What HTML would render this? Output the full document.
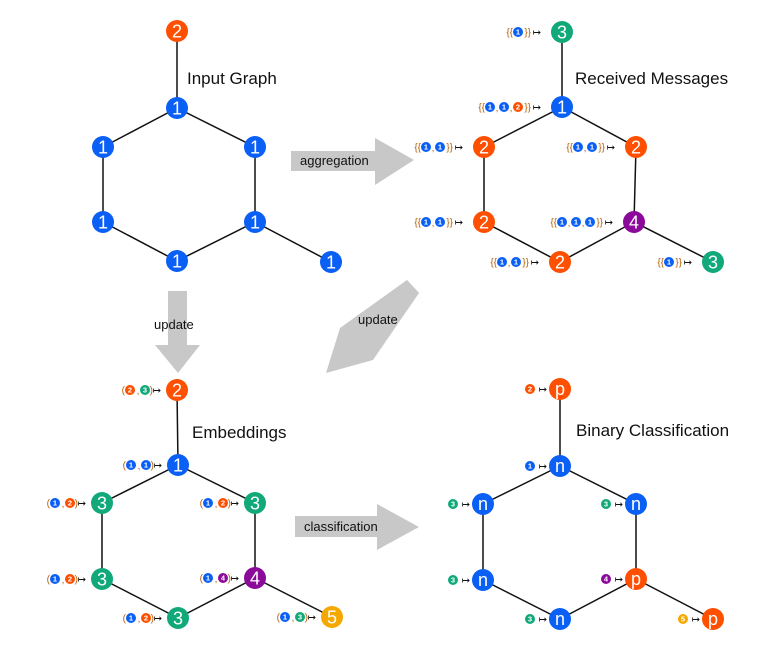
<!DOCTYPE html>
<html><head><meta charset="utf-8"><style>
html,body{margin:0;padding:0;background:#fff;}
svg{display:block;font-family:"Liberation Sans",sans-serif;}
.e{stroke:#111;stroke-width:1.5;}
.nt{fill:#fff;font-size:18px;text-anchor:middle;}
.bt{fill:#fff;font-size:7.5px;font-weight:bold;text-anchor:middle;}
.br{fill:#b8620a;font-size:10px;text-anchor:end;}
.cm{fill:#b8620a;font-size:10px;text-anchor:middle;}
.ar{fill:#111;font-size:10px;text-anchor:end;}
.ti{fill:#111;font-size:17px;}
.al{fill:#111;font-size:13px;}
</style></head><body>
<svg width="776" height="660" viewBox="0 0 776 660">
<defs>
<g id="bb"><circle r="5" fill="#0a5ff5"/><text class="bt" y="2.7">1</text></g>
<g id="bo"><circle r="5" fill="#ff4f00"/><text class="bt" y="2.7">2</text></g>
<g id="bg"><circle r="5" fill="#12a97a"/><text class="bt" y="2.7">3</text></g>
<g id="bp"><circle r="5" fill="#8b0a9a"/><text class="bt" y="2.7">4</text></g>
<g id="by"><circle r="5" fill="#f5a800"/><text class="bt" y="2.7">5</text></g>
</defs>

<!-- arrows -->
<g fill="#c8c8c8">
<polygon points="291,151 375,151 375,138 414,160 375,185 375,171 291,171"/>
<polygon points="168,291 187,291 187,345 200,345 178,373 155,345 168,345"/>
<polygon points="295,516 377,516 377,504 419,527 377,550 377,537 295,537"/>
<polygon points="407,280 419,293 373,360 326,373 340,328"/>
</g>
<polygon points="407,280 419,293 362,350 350,338" fill="#c8c8c8"/>
<text class="al" x="300" y="165">aggregation</text>
<text class="al" x="154" y="329">update</text>
<text class="al" x="358" y="324">update</text>
<text class="al" x="304" y="531">classification</text>

<!-- Graph 1 -->
<g class="e">
<line x1="177" y1="31" x2="177" y2="108"/><line x1="177" y1="108" x2="103" y2="147"/><line x1="177" y1="108" x2="255" y2="147"/>
<line x1="103" y1="147" x2="103" y2="222"/><line x1="255" y1="147" x2="255" y2="222"/>
<line x1="103" y1="222" x2="177" y2="261"/><line x1="255" y1="222" x2="177" y2="261"/><line x1="255" y1="222" x2="331" y2="262"/>
</g>
<circle cx="177" cy="31" r="11" fill="#ff4f00"/><text class="nt" x="177" y="37.5">2</text>
<circle cx="177" cy="108" r="11" fill="#0a5ff5"/><text class="nt" x="177" y="114.5">1</text>
<circle cx="103" cy="147" r="11" fill="#0a5ff5"/><text class="nt" x="103" y="153.5">1</text>
<circle cx="255" cy="147" r="11" fill="#0a5ff5"/><text class="nt" x="255" y="153.5">1</text>
<circle cx="103" cy="222" r="11" fill="#0a5ff5"/><text class="nt" x="103" y="228.5">1</text>
<circle cx="255" cy="222" r="11" fill="#0a5ff5"/><text class="nt" x="255" y="228.5">1</text>
<circle cx="177" cy="261" r="11" fill="#0a5ff5"/><text class="nt" x="177" y="267.5">1</text>
<circle cx="331" cy="262" r="11" fill="#0a5ff5"/><text class="nt" x="331" y="268.5">1</text>
<text class="ti" x="187" y="84">Input Graph</text>

<!-- Graph 2 -->
<g class="e">
<line x1="562" y1="32" x2="562" y2="107"/><line x1="562" y1="107" x2="484" y2="147"/><line x1="562" y1="107" x2="636" y2="147"/>
<line x1="484" y1="147" x2="484" y2="222"/><line x1="636" y1="147" x2="634" y2="222"/>
<line x1="484" y1="222" x2="560" y2="262"/><line x1="634" y1="222" x2="560" y2="262"/><line x1="634" y1="222" x2="713" y2="262"/>
</g>
<circle cx="562" cy="32" r="11" fill="#12a97a"/><text class="nt" x="562" y="38.5">3</text>
<circle cx="562" cy="107" r="11" fill="#0a5ff5"/><text class="nt" x="562" y="113.5">1</text>
<circle cx="484" cy="147" r="11" fill="#ff4f00"/><text class="nt" x="484" y="153.5">2</text>
<circle cx="636" cy="147" r="11" fill="#ff4f00"/><text class="nt" x="636" y="153.5">2</text>
<circle cx="484" cy="222" r="11" fill="#ff4f00"/><text class="nt" x="484" y="228.5">2</text>
<circle cx="634" cy="222" r="11" fill="#8b0a9a"/><text class="nt" x="634" y="228.5">4</text>
<circle cx="560" cy="262" r="11" fill="#ff4f00"/><text class="nt" x="560" y="268.5">2</text>
<circle cx="713" cy="262" r="11" fill="#12a97a"/><text class="nt" x="713" y="268.5">3</text>
<text class="ti" x="575" y="84">Received Messages</text>
<!-- labels G2 -->
<text class="br" x="513" y="35.5">{{</text><use href="#bb" x="518" y="32"/><text class="br" x="531" y="35.5">}}</text><text class="ar" x="541" y="35.5">↦</text>
<text class="br" x="485" y="110.5">{{</text><use href="#bb" x="490" y="107"/><text class="cm" x="497" y="111">,</text><use href="#bb" x="504" y="107"/><text class="cm" x="511" y="111">,</text><use href="#bo" x="518" y="107"/><text class="br" x="531" y="110.5">}}</text><text class="ar" x="541" y="110.5">↦</text>
<text class="br" x="421" y="150.5">{{</text><use href="#bb" x="426" y="147"/><text class="cm" x="433" y="151">,</text><use href="#bb" x="440" y="147"/><text class="br" x="453" y="150.5">}}</text><text class="ar" x="463" y="150.5">↦</text>
<text class="br" x="573" y="150.5">{{</text><use href="#bb" x="578" y="147"/><text class="cm" x="585" y="151">,</text><use href="#bb" x="592" y="147"/><text class="br" x="605" y="150.5">}}</text><text class="ar" x="615" y="150.5">↦</text>
<text class="br" x="421" y="225.5">{{</text><use href="#bb" x="426" y="222"/><text class="cm" x="433" y="226">,</text><use href="#bb" x="440" y="222"/><text class="br" x="453" y="225.5">}}</text><text class="ar" x="463" y="225.5">↦</text>
<text class="br" x="557" y="225.5">{{</text><use href="#bb" x="562" y="222"/><text class="cm" x="569" y="226">,</text><use href="#bb" x="576" y="222"/><text class="cm" x="583" y="226">,</text><use href="#bb" x="590" y="222"/><text class="br" x="603" y="225.5">}}</text><text class="ar" x="613" y="225.5">↦</text>
<text class="br" x="497" y="265.5">{{</text><use href="#bb" x="502" y="262"/><text class="cm" x="509" y="266">,</text><use href="#bb" x="516" y="262"/><text class="br" x="529" y="265.5">}}</text><text class="ar" x="539" y="265.5">↦</text>
<text class="br" x="664" y="265.5">{{</text><use href="#bb" x="669" y="262"/><text class="br" x="682" y="265.5">}}</text><text class="ar" x="692" y="265.5">↦</text>

<!-- Graph 3 -->
<g class="e">
<line x1="177" y1="390" x2="178" y2="465"/><line x1="178" y1="465" x2="102" y2="503"/><line x1="178" y1="465" x2="255" y2="503"/>
<line x1="102" y1="503" x2="102" y2="579"/><line x1="255" y1="503" x2="255" y2="578"/>
<line x1="102" y1="579" x2="178" y2="618"/><line x1="255" y1="578" x2="178" y2="618"/><line x1="255" y1="578" x2="332" y2="617"/>
</g>
<circle cx="177" cy="390" r="11" fill="#ff4f00"/><text class="nt" x="177" y="396.5">2</text>
<circle cx="178" cy="465" r="11" fill="#0a5ff5"/><text class="nt" x="178" y="471.5">1</text>
<circle cx="102" cy="503" r="11" fill="#12a97a"/><text class="nt" x="102" y="509.5">3</text>
<circle cx="255" cy="503" r="11" fill="#12a97a"/><text class="nt" x="255" y="509.5">3</text>
<circle cx="102" cy="579" r="11" fill="#12a97a"/><text class="nt" x="102" y="585.5">3</text>
<circle cx="255" cy="578" r="11" fill="#8b0a9a"/><text class="nt" x="255" y="584.5">4</text>
<circle cx="178" cy="618" r="11" fill="#12a97a"/><text class="nt" x="178" y="624.5">3</text>
<circle cx="332" cy="617" r="11" fill="#f5a800"/><text class="nt" x="332" y="623.5">5</text>
<text class="ti" x="192" y="438">Embeddings</text>
<!-- labels G3 -->
<text class="br" x="125" y="393.5">(</text><use href="#bo" x="130" y="390"/><text class="cm" x="138" y="394">,</text><use href="#bg" x="145" y="390"/><text class="br" x="153" y="393.5">)</text><text class="ar" x="161" y="393.5">↦</text>
<text class="br" x="126" y="468.5">(</text><use href="#bb" x="131" y="465"/><text class="cm" x="139" y="469">,</text><use href="#bb" x="146" y="465"/><text class="br" x="154" y="468.5">)</text><text class="ar" x="162" y="468.5">↦</text>
<text class="br" x="50" y="506.5">(</text><use href="#bb" x="55" y="503"/><text class="cm" x="63" y="507">,</text><use href="#bo" x="70" y="503"/><text class="br" x="78" y="506.5">)</text><text class="ar" x="86" y="506.5">↦</text>
<text class="br" x="203" y="506.5">(</text><use href="#bb" x="208" y="503"/><text class="cm" x="216" y="507">,</text><use href="#bo" x="223" y="503"/><text class="br" x="231" y="506.5">)</text><text class="ar" x="239" y="506.5">↦</text>
<text class="br" x="50" y="582.5">(</text><use href="#bb" x="55" y="579"/><text class="cm" x="63" y="583">,</text><use href="#bo" x="70" y="579"/><text class="br" x="78" y="582.5">)</text><text class="ar" x="86" y="582.5">↦</text>
<text class="br" x="203" y="581.5">(</text><use href="#bb" x="208" y="578"/><text class="cm" x="216" y="582">,</text><use href="#bp" x="223" y="578"/><text class="br" x="231" y="581.5">)</text><text class="ar" x="239" y="581.5">↦</text>
<text class="br" x="126" y="621.5">(</text><use href="#bb" x="131" y="618"/><text class="cm" x="139" y="622">,</text><use href="#bo" x="146" y="618"/><text class="br" x="154" y="621.5">)</text><text class="ar" x="162" y="621.5">↦</text>
<text class="br" x="280" y="620.5">(</text><use href="#bb" x="285" y="617"/><text class="cm" x="293" y="621">,</text><use href="#bg" x="300" y="617"/><text class="br" x="308" y="620.5">)</text><text class="ar" x="316" y="620.5">↦</text>

<!-- Graph 4 -->
<g class="e">
<line x1="560" y1="389" x2="560" y2="466"/><line x1="560" y1="466" x2="483" y2="504"/><line x1="560" y1="466" x2="636" y2="504"/>
<line x1="483" y1="504" x2="483" y2="580"/><line x1="636" y1="504" x2="636" y2="579"/>
<line x1="483" y1="580" x2="560" y2="619"/><line x1="636" y1="579" x2="560" y2="619"/><line x1="636" y1="579" x2="713" y2="619"/>
</g>
<circle cx="560" cy="389" r="11" fill="#ff4f00"/><text class="nt" x="560" y="395">p</text>
<circle cx="560" cy="466" r="11" fill="#0a5ff5"/><text class="nt" x="560" y="472">n</text>
<circle cx="483" cy="504" r="11" fill="#0a5ff5"/><text class="nt" x="483" y="510">n</text>
<circle cx="636" cy="504" r="11" fill="#0a5ff5"/><text class="nt" x="636" y="510">n</text>
<circle cx="483" cy="580" r="11" fill="#0a5ff5"/><text class="nt" x="483" y="586">n</text>
<circle cx="636" cy="579" r="11" fill="#ff4f00"/><text class="nt" x="636" y="585">p</text>
<circle cx="560" cy="619" r="11" fill="#0a5ff5"/><text class="nt" x="560" y="625">n</text>
<circle cx="713" cy="619" r="11" fill="#ff4f00"/><text class="nt" x="713" y="625">p</text>
<text class="ti" x="576" y="436">Binary Classification</text>
<use href="#bo" x="530" y="389"/><text class="ar" x="547" y="392.5">↦</text>
<use href="#bb" x="530" y="466"/><text class="ar" x="547" y="469.5">↦</text>
<use href="#bg" x="453" y="504"/><text class="ar" x="470" y="507.5">↦</text>
<use href="#bg" x="606" y="504"/><text class="ar" x="623" y="507.5">↦</text>
<use href="#bg" x="453" y="580"/><text class="ar" x="470" y="583.5">↦</text>
<use href="#bp" x="606" y="579"/><text class="ar" x="623" y="582.5">↦</text>
<use href="#bg" x="530" y="619"/><text class="ar" x="547" y="622.5">↦</text>
<use href="#by" x="683" y="619"/><text class="ar" x="700" y="622.5">↦</text>
</svg>
</body></html>
